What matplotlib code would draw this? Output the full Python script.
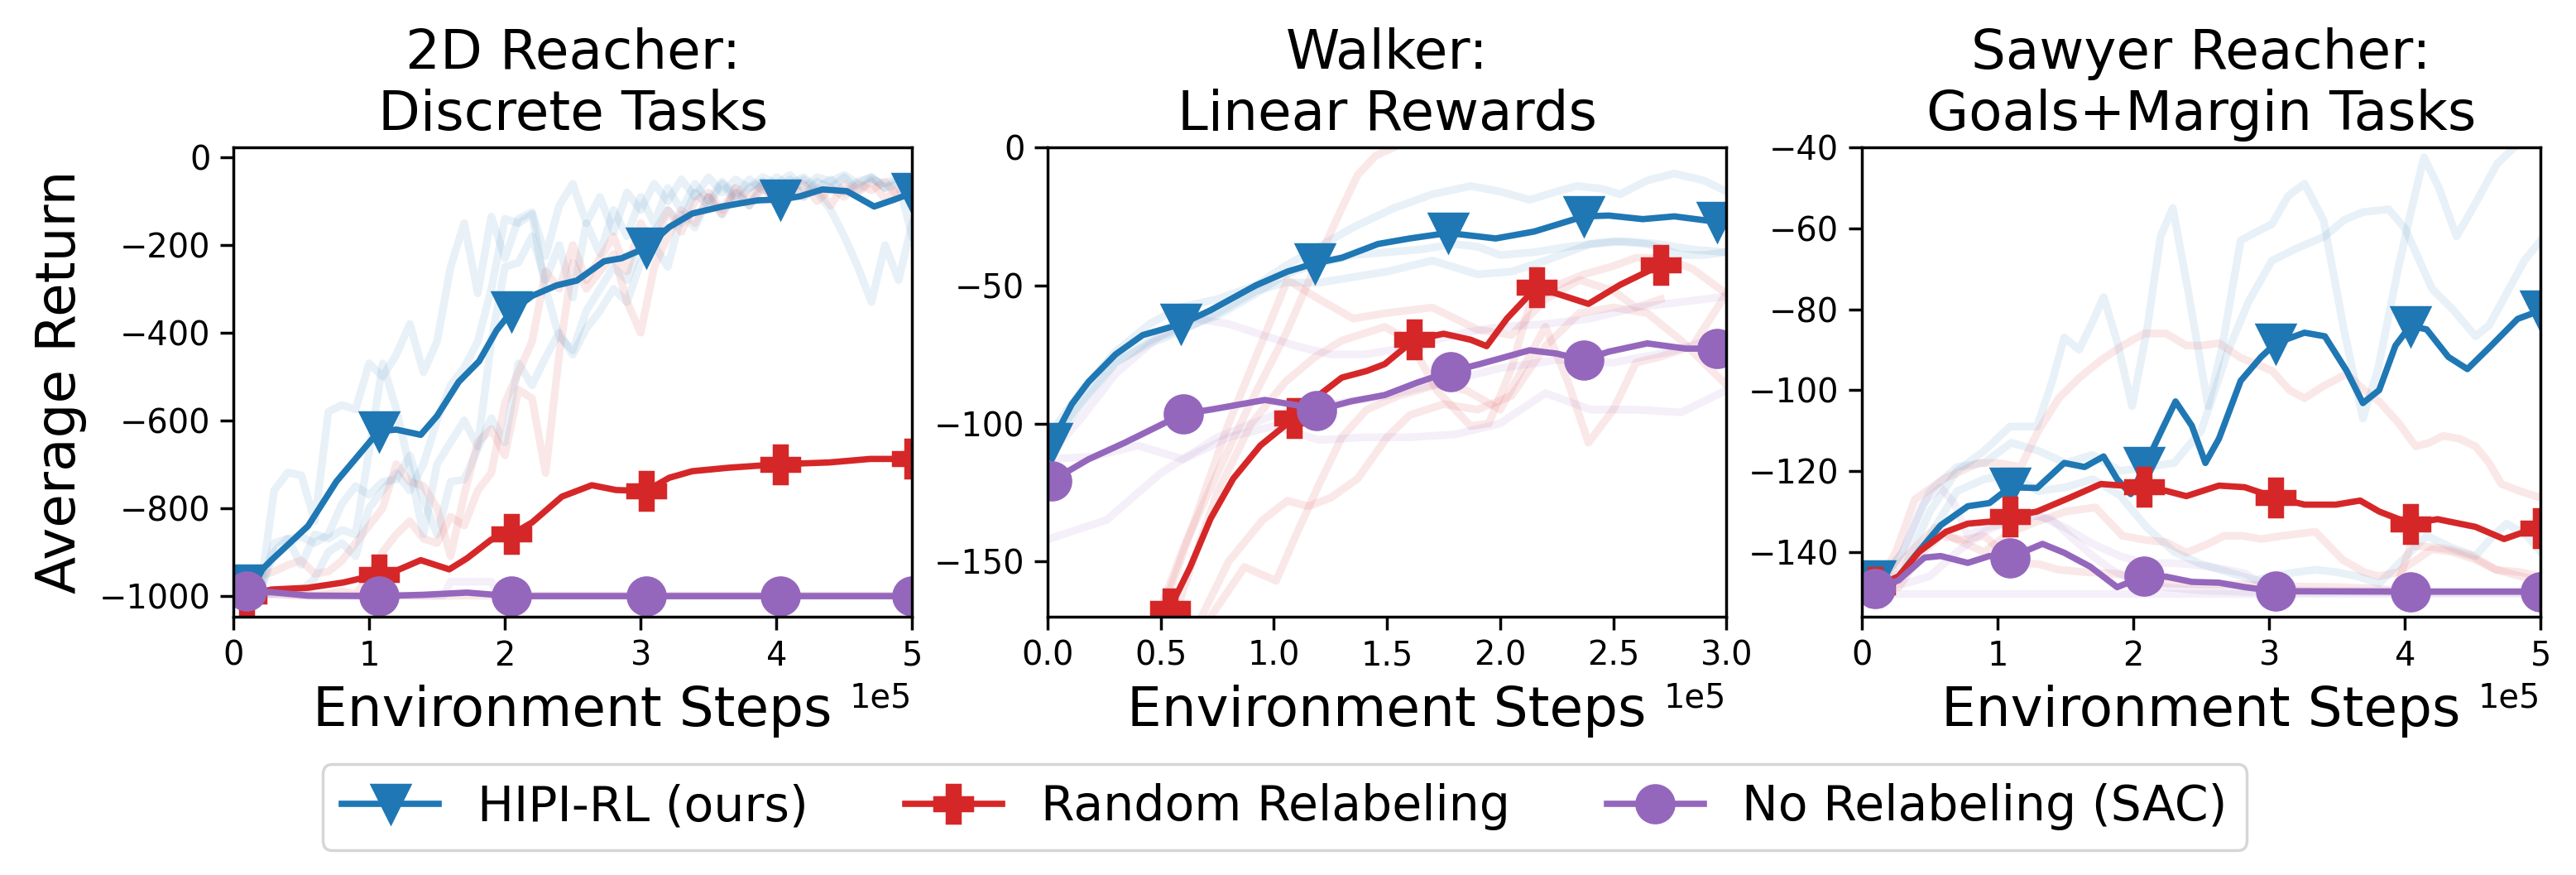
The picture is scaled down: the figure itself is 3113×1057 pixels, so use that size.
import numpy as np
import matplotlib.pyplot as plt
from matplotlib.ticker import MultipleLocator

# colours (tab10)
c_hipi = '#1f77b4'
c_rand = '#d62728'
c_sac = '#9467bd'

labels = ['HIPI-RL (ours)', 'Random Relabeling', 'No Relabeling (SAC)']
titles = ['2D Reacher:\nDiscrete Tasks', 'Walker:\nLinear Rewards', 'Sawyer Reacher:\nGoals+Margin Tasks']

# ---------------- 2D Reacher (x in 1e5 steps) ----------------
r1_hipi_x = [0.1, 0.28, 0.55, 0.76, 1.07, 1.2, 1.38, 1.5, 1.66, 1.81, 1.94, 2.05, 2.2, 2.38, 2.53,
             2.73, 2.86, 3.04, 3.21, 3.38, 3.6, 3.86, 4.03, 4.17, 4.34, 4.52, 4.72, 4.87, 5.0]
r1_hipi_y = [-975, -919, -841, -739, -625, -621, -633, -590, -512, -465, -394, -351, -316, -292, -281,
             -237, -230, -206, -159, -128, -112, -98, -96, -89, -73, -77, -112, -96, -81]
r1_hipi_mk = [0, 4, 11, 17, 22, 28]

r1_rand_x = [0.1, 0.28, 0.55, 0.81, 1.07, 1.2, 1.38, 1.59, 1.72, 1.9, 2.05, 2.2, 2.42, 2.64, 2.82,
             3.04, 3.21, 3.38, 3.65, 4.03, 4.39, 4.69, 5.0]
r1_rand_y = [-1001, -986, -982, -970, -951, -943, -919, -940, -915, -872, -860, -833, -774, -748, -759,
             -761, -731, -716, -708, -700, -696, -688, -688]
r1_rand_mk = [0, 4, 10, 15, 19, 22]

r1_sac_x = [0.1, 0.28, 0.55, 1.07, 1.4, 1.72, 2.05, 3.04, 4.03, 5.0]
r1_sac_y = [-990, -992, -1000, -1001, -998, -993, -1001, -1001, -1001, -1001]
r1_sac_mk = [0, 3, 6, 7, 8, 9]

# individual seeds, evaluated every 1e4 steps from 0.1 to 5.0
r1_seed_x = np.arange(1, 51) / 10
r1_hipi_s1 = [-990, -985, -760, -719, -725, -830, -580, -565, -575, -470,
              -500, -450, -380, -490, -420, -250, -150, -310, -135, -230,
              -140, -125, -225, -110, -60, -150, -90, -170, -80, -120,
              -60, -100, -50, -90, -45, -80, -50, -70, -45, -60,
              -40, -70, -45, -55, -40, -60, -45, -70, -50, -60]
r1_hipi_s2 = [-1000, -990, -900, -870, -866, -880, -860, -790, -750, -770,
              -740, -735, -680, -780, -860, -740, -735, -665, -595, -650,
              -470, -520, -456, -400, -450, -390, -350, -300, -330, -240,
              -200, -250, -130, -160, -90, -130, -70, -110, -60, -80,
              -50, -90, -55, -70, -45, -75, -50, -60, -45, -55]
r1_hipi_s3 = [-1000, -990, -880, -870, -930, -860, -870, -850, -860, -670,
              -470, -575, -710, -860, -700, -650, -600, -660, -420, -250,
              -240, -180, -280, -200, -320, -150, -220, -120, -180, -90,
              -150, -70, -120, -60, -100, -55, -90, -50, -75, -45,
              -65, -50, -80, -120, -180, -250, -330, -200, -280, -150]
r1_hipi_s4 = [-1000, -1000, -995, -990, -990, -960, -900, -880, -910, -800,
              -760, -720, -760, -700, -600, -520, -480, -420, -300, -140,
              -150, -130, -300, -410, -440, -350, -300, -250, -280, -200,
              -170, -120, -150, -80, -110, -60, -100, -70, -55, -90,
              -60, -45, -70, -50, -80, -55, -45, -70, -60, -180]
r1_rand_s1 = [-960, -955, -945, -930, -920, -950, -945, -920, -880, -840,
              -800, -700, -740, -750, -800, -910, -770, -650, -620, -680,
              -530, -550, -720, -450, -240, -300, -260, -220, -330, -400,
              -250, -180, -120, -150, -90, -130, -80, -110, -70, -100,
              -60, -90, -70, -110, -60, -80, -55, -95, -70, -60]
r1_rand_s2 = [-1000, -995, -990, -995, -990, -1000, -995, -990, -995, -960,
              -900, -860, -830, -870, -880, -820, -840, -760, -720, -560,
              -490, -420, -260, -300, -200, -280, -230, -180, -260, -150,
              -200, -120, -170, -100, -80, -120, -70, -90, -60, -110,
              -70, -60, -100, -70, -90, -60, -75, -55, -90, -70]
r1_rand_s3_x = [0.1, 0.5, 1.0, 2.0, 3.0, 4.0, 5.0]
r1_rand_s3_y = [-995, -1000, -1000, -1000, -1000, -1000, -1000]
r1_sac_s1_x = [0.1, 0.5, 1.0, 1.55, 1.6, 1.9, 1.95, 3.0, 4.0, 5.0]
r1_sac_s1_y = [-990, -1000, -1000, -1000, -968, -968, -1000, -1000, -1000, -1000]

# ---------------- Walker ----------------
r2_hipi_x = [0.017, 0.107, 0.18, 0.3, 0.42, 0.59, 0.72, 0.92, 1.06, 1.18, 1.3, 1.46, 1.6, 1.77,
             1.98, 2.15, 2.37, 2.48, 2.63, 2.77, 2.96]
r2_hipi_y = [-107, -93, -85, -75, -68, -64, -59, -50, -45, -42, -40, -35, -33, -31,
             -33, -30.5, -25, -24.7, -26, -25, -27]
r2_hipi_mk = [0, 5, 9, 13, 16, 20]

r2_rand_x = [0.0, 0.27, 0.54, 0.63, 0.72, 0.82, 0.94, 1.09, 1.2, 1.3, 1.41, 1.49, 1.62, 1.75,
             1.87, 1.94, 2.03, 2.16, 2.27, 2.39, 2.53, 2.71]
r2_rand_y = [-290, -225, -167, -152, -134.5, -120, -108, -98, -89.7, -83.4, -81, -78.5, -69.7, -67.5,
             -69.7, -72, -62, -50.7, -53.5, -56.7, -49.8, -42.6]
r2_rand_mk = [0, 2, 7, 12, 17, 21]

r2_sac_x = [0.017, 0.18, 0.34, 0.6, 0.72, 0.96, 1.1, 1.19, 1.34, 1.49, 1.63, 1.78, 1.91, 2.13,
            2.25, 2.37, 2.48, 2.65, 2.82, 2.96]
r2_sac_y = [-120.8, -113, -107, -96.5, -95, -91.5, -93.4, -95.3, -92, -89.7, -85.3, -81.2, -78.5, -73.5,
            -74.7, -77, -74, -71, -72.9, -72.9]
r2_sac_mk = [0, 3, 7, 11, 15, 19]

r2_hipi_s1_x = [0.0, 0.15, 0.3, 0.45, 0.58, 0.75, 0.92, 1.05, 1.2, 1.35, 1.53, 1.7, 1.87, 2.0, 2.13,
                2.25, 2.34, 2.45, 2.53, 2.65, 2.77, 2.9, 3.0]
r2_hipi_s1_y = [-105, -88, -74, -64, -58, -55, -50, -43, -36, -29, -22, -17, -14, -16, -19,
                -16, -14, -15, -17, -12, -9.5, -12, -16]
r2_hipi_s2_x = [0.0, 0.15, 0.3, 0.45, 0.58, 0.75, 0.92, 1.05, 1.2, 1.35, 1.5, 1.65, 1.8, 1.9, 2.0,
                2.15, 2.3, 2.5, 2.65, 2.8, 2.9, 3.0]
r2_hipi_s2_y = [-110, -93, -78, -70, -66, -61, -53, -46, -42, -39, -38, -37, -35, -36, -39,
                -38, -36, -34, -35, -39, -39, -38]
r2_hipi_s3_x = [0.0, 0.15, 0.3, 0.45, 0.58, 0.75, 0.92, 1.05, 1.2, 1.35, 1.5, 1.7, 1.9, 2.05, 2.2,
                2.4, 2.55, 2.7, 2.85, 3.0]
r2_hipi_s3_y = [-108, -92, -78, -71, -67, -60, -52, -49, -49, -47, -45, -41, -46, -45, -41,
                -35, -34, -35, -37, -38]
r2_rand_s1_x = [0.3, 0.45, 0.6, 0.75, 0.9, 1.05, 1.2, 1.3, 1.37, 1.45, 1.53, 1.62, 2.0, 2.7]
r2_rand_s1_y = [-215, -178, -145, -118, -92, -68, -40, -22, -10, -3, 0, 5, 12, 15]
r2_rand_s2_x = [0.35, 0.5, 0.65, 0.8, 0.95, 1.06, 1.2, 1.35, 1.5, 1.7, 1.9, 2.05, 2.2, 2.35, 2.5,
                2.6, 2.71]
r2_rand_s2_y = [-200, -170, -135, -100, -70, -48, -55, -62, -60, -58, -66, -68, -55, -48, -52,
                -58, -55]
r2_rand_s3_x = [0.45, 0.6, 0.75, 0.9, 1.05, 1.18, 1.3, 1.49, 1.6, 1.72, 1.87, 1.95, 2.05, 2.13, 2.25,
                2.37, 2.5, 2.6, 2.72, 2.85, 3.0]
r2_rand_s3_y = [-200, -160, -125, -100, -85, -76, -70, -65, -70, -88, -101, -100, -80, -57, -50,
                -46, -43, -40, -40, -44, -53]
r2_rand_s4_x = [0.5, 0.65, 0.8, 0.95, 1.06, 1.15, 1.25, 1.37, 1.5, 1.6, 1.75, 1.9, 2.05, 2.2, 2.35,
                2.5, 2.65, 2.8, 3.0]
r2_rand_s4_y = [-200, -175, -150, -135, -128, -130, -127, -120, -105, -97, -93, -95, -90, -72, -60,
                -58, -60, -70, -86]
r2_rand_s5_x = [0.6, 0.72, 0.87, 1.01, 1.1, 1.2, 1.3, 1.41, 1.55, 1.72, 1.85, 2.0, 2.1, 2.2, 2.3,
                2.39, 2.5, 2.6, 2.7, 2.85, 3.0]
r2_rand_s5_y = [-185, -170, -152, -157, -140, -122, -105, -95, -90, -86, -88, -95, -80, -65, -85,
                -107, -95, -78, -76, -72, -53]
r2_sac_s1_x = [0.0, 0.15, 0.3, 0.5, 0.65, 0.8, 0.95, 1.1, 1.25, 1.4, 1.55, 1.7, 1.85, 2.0, 2.2,
               2.4, 2.6, 2.8, 3.0]
r2_sac_s1_y = [-112, -98, -82, -68, -62, -64, -68, -72, -75, -75, -73, -70, -67, -65, -64,
               -62, -58, -56, -54]
r2_sac_s2_x = [0.0, 0.2, 0.4, 0.6, 0.8, 1.0, 1.2, 1.4, 1.6, 1.8, 2.0, 2.2, 2.4, 2.6, 2.8, 3.0]
r2_sac_s2_y = [-113, -112, -108, -113, -105, -101, -106, -105, -105, -104, -100, -89, -95, -95, -96, -88]
r2_sac_s3_x = [0.0, 0.26, 0.5, 0.75, 1.0, 1.25, 1.5, 1.75, 2.0, 2.25, 2.5, 2.75, 3.0]
r2_sac_s3_y = [-142, -135, -118, -105, -97, -93, -90, -85, -80, -77, -78, -74, -68]

# ---------------- Sawyer Reacher ----------------
r3_hipi_x = [0.1, 0.23, 0.39, 0.58, 0.78, 0.94, 1.09, 1.29, 1.49, 1.64, 1.78, 1.88, 1.98, 2.08, 2.2,
             2.31, 2.43, 2.53, 2.63, 2.79, 2.94, 3.05, 3.26, 3.41, 3.57, 3.69, 3.81, 3.93, 4.04, 4.16,
             4.32, 4.46, 4.63, 4.83, 5.0]
r3_hipi_y = [-147, -147.8, -141, -133.4, -128.7, -127.9, -124, -124.2, -118, -119, -116.4, -122, -125.7,
             -119, -110.5, -102.8, -108.8, -118, -112, -97.7, -91.8, -88.4, -85.8, -86.7, -95.2, -103.2,
             -100, -89, -84.1, -85, -91.8, -94.8, -89.2, -82.4, -80.3]
r3_hipi_mk = [0, 6, 13, 21, 28, 34]

r3_rand_x = [0.1, 0.27, 0.42, 0.62, 0.78, 0.98, 1.09, 1.29, 1.53, 1.76, 1.92, 2.08, 2.24, 2.39, 2.63,
             2.82, 3.05, 3.26, 3.49, 3.67, 3.81, 4.04, 4.24, 4.52, 4.73, 4.91, 5.0]
r3_rand_y = [-148.7, -146, -140, -135, -133, -132.4, -131.3, -130, -126.6, -123.2, -123.6, -123.9, -124.9,
             -126.2, -123.6, -124, -126.6, -128.3, -128.3, -127.3, -130, -133, -131.9, -133.8, -136.8,
             -134.7, -134.2]
r3_rand_mk = [0, 6, 11, 16, 21, 26]

r3_sac_x = [0.1, 0.27, 0.46, 0.58, 0.78, 0.94, 1.09, 1.33, 1.49, 1.68, 1.88, 2.08, 2.24, 2.43, 2.63,
            2.82, 3.05, 4.04, 5.0]
r3_sac_y = [-149.1, -147, -141.4, -141, -142.7, -141, -141.4, -138, -140.2, -143.6, -148.7, -146, -146.1,
            -147.4, -147.6, -148.7, -149.7, -149.8, -149.8]
r3_sac_mk = [0, 6, 11, 16, 17, 18]

r3_hipi_s1_x = [0.1, 0.3, 0.5, 0.7, 0.9, 1.09, 1.29, 1.4, 1.49, 1.6, 1.7, 1.78, 1.88, 1.99, 2.1, 2.2,
                2.29, 2.4, 2.55, 2.65, 2.79, 2.9, 3.02, 3.14, 3.26, 3.4, 3.55, 3.69, 3.8, 3.95, 4.05,
                4.14, 4.25, 4.38, 4.5, 4.68, 4.9, 5.0]
r3_hipi_s1_y = [-148, -145, -130, -120, -115, -109, -109, -98, -87, -90, -83, -77, -88, -104, -85, -62,
                -55, -75, -104, -90, -63, -61, -59, -52, -49, -58, -85, -107, -95, -70, -55,
                -42.5, -50, -62, -55, -44, -37, -35]
r3_hipi_s2_x = [0.1, 0.3, 0.5, 0.7, 0.9, 1.1, 1.3, 1.5, 1.7, 1.9, 2.1, 2.3, 2.5, 2.7, 2.85, 3.02, 3.2,
                3.41, 3.55, 3.69, 3.88, 4.0, 4.2, 4.35, 4.52, 4.62, 4.75, 4.88, 5.0]
r3_hipi_s2_y = [-149, -140, -125, -119, -118, -113, -115, -118, -116, -120, -119, -118, -110, -90, -78,
                -68, -65, -62, -58, -56, -55.3, -60, -75, -80, -86.7, -84, -76, -68, -63]
r3_hipi_s3_x = [0.1, 0.3, 0.5, 0.7, 0.9, 1.1, 1.3, 1.5, 1.7, 1.9, 2.1, 2.3, 2.5, 2.7, 2.9, 3.02, 3.2,
                3.34, 3.5, 3.65, 3.81, 3.95, 4.16, 4.35, 4.52, 4.65, 4.75, 4.9, 5.0]
r3_hipi_s3_y = [-150, -146, -136, -125, -122, -121, -125, -124, -122, -126, -134, -140, -143, -145, -147,
                -146, -145, -144.4, -145, -146, -147.8, -143, -136, -139, -141, -136, -133, -136, -140]
r3_rand_s1_x = [0.1, 0.25, 0.39, 0.6, 0.86, 1.0, 1.17, 1.3, 1.45, 1.6, 1.76, 1.92, 2.08, 2.24, 2.39,
                2.5, 2.63, 2.79, 3.02, 3.15, 3.26, 3.4, 3.57, 3.7, 3.81, 3.95, 4.08, 4.18, 4.28, 4.4,
                4.52, 4.62, 4.71, 4.85, 5.0]
r3_rand_s1_y = [-149, -140, -127, -122, -118, -118, -119, -110, -102, -97, -92.6, -89, -86, -86, -89,
                -89, -88.4, -92, -95.2, -100, -102, -99, -96, -100, -102.8, -108, -113.9, -113, -111.3,
                -112, -113.9, -118, -123.2, -125, -126.6]
r3_rand_s2_x = [0.1, 0.3, 0.54, 0.7, 0.9, 1.1, 1.29, 1.5, 1.72, 1.92, 2.08, 2.24, 2.39, 2.55, 2.67, 2.8,
                2.94, 3.1, 3.34, 3.54, 3.7, 3.81, 3.95, 4.2, 4.35, 4.52, 4.67, 4.85, 5.0]
r3_rand_s2_y = [-149, -142, -134, -137, -140, -135, -132.5, -130, -129, -136, -137, -137.6, -140.2, -138,
                -136, -136, -136.8, -136, -135, -141.9, -145, -146, -145, -139.3, -140, -141.9, -144.4,
                -145, -146]
r3_rand_s3_x = [0.1, 0.27, 0.45, 0.58, 0.75, 0.9, 1.13, 1.3, 1.45, 1.65, 1.84, 2.0, 2.24, 2.5, 2.8, 3.1,
                3.54, 3.75, 3.93, 4.04, 4.2, 4.32, 4.5, 4.67, 4.85, 5.0]
r3_rand_s3_y = [-150, -148.7, -140, -136, -137, -136, -142.7, -143, -144.4, -145, -145.3, -146, -147.8,
                -148, -148, -148.5, -148.7, -149, -149.5, -138.5, -138.8, -139.3, -141, -144.4, -146, -147]
r3_sac_s1_x = [0.1, 0.3, 0.45, 0.58, 0.68, 0.78, 0.9, 1.05, 1.25, 1.4, 1.53, 1.7, 1.84, 2.0, 2.24, 2.5,
               3.0, 4.0, 5.0]
r3_sac_s1_y = [-149, -140, -128, -124, -128, -136, -134, -133, -130.8, -132, -136, -141, -144.4, -147,
               -148.7, -149.5, -150, -150, -150]
r3_sac_s2_x = [0.1, 1.0, 2.0, 3.0, 4.0, 5.0]
r3_sac_s2_y = [-150.3, -150.3, -150.3, -150.3, -150.3, -150.3]
r3_sac_s3_x = [0.1, 0.3, 0.5, 0.7, 0.9, 1.1, 1.3, 1.5, 1.7, 1.9, 2.1, 2.24, 2.4, 2.55, 2.7, 2.82, 3.0,
               3.2, 4.0, 5.0]
r3_sac_s3_y = [-149, -148, -146, -140, -135, -132, -131, -134, -138, -141, -143, -142.7, -143, -143.6,
               -144.5, -145.3, -148.7, -149.5, -149.7, -149.7]

panels = [
    dict(title=titles[0], xmax=5, ylim=(-1048, 23), ystep=200,
         seeds=[(c_hipi, r1_seed_x, r1_hipi_s1), (c_hipi, r1_seed_x, r1_hipi_s2),
                (c_hipi, r1_seed_x, r1_hipi_s3), (c_hipi, r1_seed_x, r1_hipi_s4),
                (c_rand, r1_seed_x, r1_rand_s1), (c_rand, r1_seed_x, r1_rand_s2),
                (c_rand, r1_rand_s3_x, r1_rand_s3_y), (c_sac, r1_sac_s1_x, r1_sac_s1_y)],
         means=[(r1_hipi_x, r1_hipi_y, r1_hipi_mk), (r1_rand_x, r1_rand_y, r1_rand_mk),
                (r1_sac_x, r1_sac_y, r1_sac_mk)]),
    dict(title=titles[1], xmax=3, ylim=(-170, 0), ystep=50,
         seeds=[(c_hipi, r2_hipi_s1_x, r2_hipi_s1_y), (c_hipi, r2_hipi_s2_x, r2_hipi_s2_y),
                (c_hipi, r2_hipi_s3_x, r2_hipi_s3_y),
                (c_rand, r2_rand_s1_x, r2_rand_s1_y), (c_rand, r2_rand_s2_x, r2_rand_s2_y),
                (c_rand, r2_rand_s3_x, r2_rand_s3_y), (c_rand, r2_rand_s4_x, r2_rand_s4_y),
                (c_rand, r2_rand_s5_x, r2_rand_s5_y),
                (c_sac, r2_sac_s1_x, r2_sac_s1_y), (c_sac, r2_sac_s2_x, r2_sac_s2_y),
                (c_sac, r2_sac_s3_x, r2_sac_s3_y)],
         means=[(r2_hipi_x, r2_hipi_y, r2_hipi_mk), (r2_rand_x, r2_rand_y, r2_rand_mk),
                (r2_sac_x, r2_sac_y, r2_sac_mk)]),
    dict(title=titles[2], xmax=5, ylim=(-156, -40), ystep=20,
         seeds=[(c_hipi, r3_hipi_s1_x, r3_hipi_s1_y), (c_hipi, r3_hipi_s2_x, r3_hipi_s2_y),
                (c_hipi, r3_hipi_s3_x, r3_hipi_s3_y),
                (c_rand, r3_rand_s1_x, r3_rand_s1_y), (c_rand, r3_rand_s2_x, r3_rand_s2_y),
                (c_rand, r3_rand_s3_x, r3_rand_s3_y),
                (c_sac, r3_sac_s1_x, r3_sac_s1_y), (c_sac, r3_sac_s2_x, r3_sac_s2_y),
                (c_sac, r3_sac_s3_x, r3_sac_s3_y)],
         means=[(r3_hipi_x, r3_hipi_y, r3_hipi_mk), (r3_rand_x, r3_rand_y, r3_rand_mk),
                (r3_sac_x, r3_sac_y, r3_sac_mk)]),
]

styles = [(c_hipi, 'v'), (c_rand, 'P'), (c_sac, 'o')]
ax_left = [0.0906, 0.4067, 0.7228]

fig = plt.figure(figsize=(12.452, 4.228), dpi=250)
handles = []
for i, p in enumerate(panels):
    ax = fig.add_axes([ax_left[i], 0.2952, 0.2635, 0.5364])
    for col, sx, sy in p['seeds']:
        ax.plot(np.array(sx) * 1e5, sy, color=col, alpha=0.1, lw=2.7)
    for (mx, my, mk), (col, m) in zip(p['means'], styles):
        line, = ax.plot(np.array(mx) * 1e5, my, color=col, lw=2.2, marker=m,
                        markersize=13, markevery=mk)
        if i == 0:
            handles.append(line)
    ax.set_xlim(0, p['xmax'] * 1e5)
    ax.set_ylim(*p['ylim'])
    ax.yaxis.set_major_locator(MultipleLocator(p['ystep']))
    ax.ticklabel_format(axis='x', style='sci', scilimits=(0, 0))
    ax.xaxis.get_offset_text().set_fontsize(11.5)
    ax.tick_params(labelsize=11.5, length=4.5, width=1)
    for s in ax.spines.values():
        s.set_linewidth(1)
    ax.set_title(p['title'], fontsize=19)
    ax.set_xlabel('Environment Steps', fontsize=19)
    if i == 0:
        ax.set_ylabel('Average Return', fontsize=19)

fig.legend(handles, labels, loc='center', bbox_to_anchor=(0.4987, 0.0776), ncol=3,
           fontsize=16.85)

fig.savefig('out.png', dpi=250)
